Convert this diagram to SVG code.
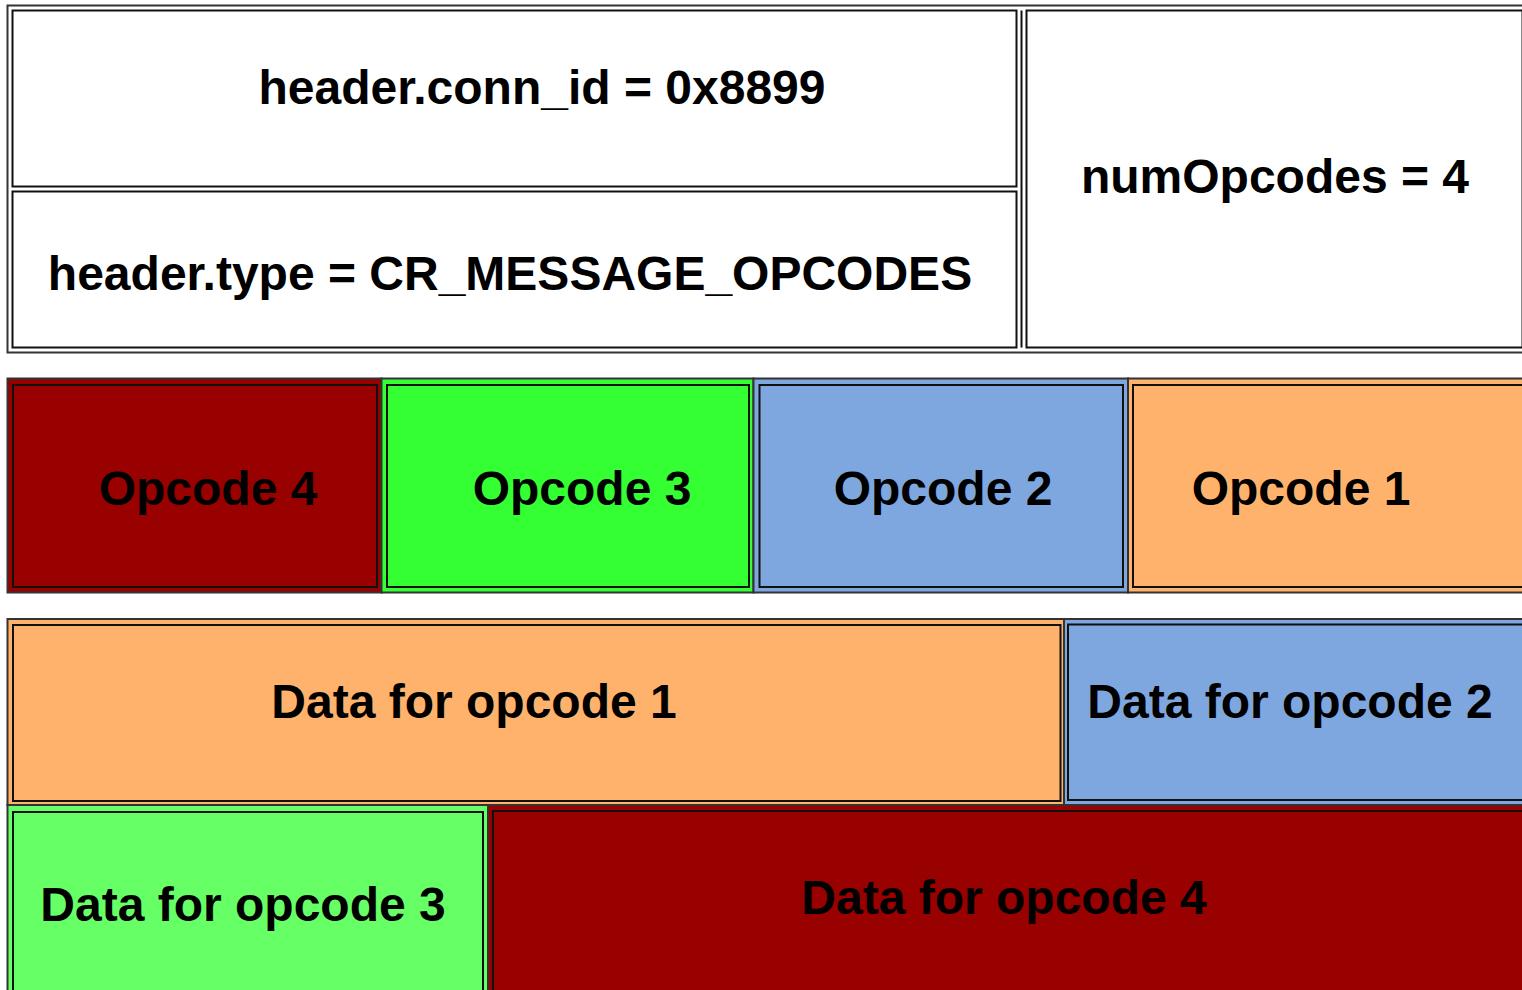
<svg xmlns="http://www.w3.org/2000/svg" width="1522" height="990" viewBox="0 0 1522 990">
  <style>
    .frame { fill: none; stroke: #333; stroke-width: 2; }
    .outer { stroke: #333; stroke-width: 2; }
    .inner { fill: none; stroke: #111; stroke-width: 2; }
    .white { fill: #fff; }
    .red { fill: #990000; }
    .green { fill: #33ff33; }
    .lgreen { fill: #66ff66; }
    .blue { fill: #7fa7df; }
    .orange { fill: #ffb26b; }
    text { font-family: "Liberation Sans", Arial, Helvetica, sans-serif; font-weight: bold; font-size: 48px; text-anchor: middle; fill: #000; }
  </style>
  <rect width="1522" height="990" fill="#fff"/>

  <!-- message header -->
  <g id="header">
    <rect class="frame white" x="7.5" y="5.5" width="1530" height="347"/>
    <g id="conn_id">
      <rect class="inner" x="12.5" y="10.5" width="1004" height="176"/>
      <text x="542" y="104">header.conn_id = 0x8899</text>
    </g>
    <g id="type">
      <rect class="inner" x="12.5" y="191.5" width="1004" height="156"/>
      <text x="510" y="290">header.type = CR_MESSAGE_OPCODES</text>
    </g>
    <line class="inner" x1="1021.5" y1="10.5" x2="1021.5" y2="347.5"/>
    <g id="numOpcodes">
      <rect class="inner" x="1026.5" y="10.5" width="496" height="337"/>
      <text x="1275" y="193">numOpcodes = 4</text>
    </g>
  </g>

  <!-- opcode bytes -->
  <g id="opcodes">
    <g id="opcode4">
      <rect class="outer red" x="7.5" y="378.5" width="374" height="214"/>
      <rect class="inner" x="13" y="385" width="364" height="202"/>
      <text x="208" y="505">Opcode 4</text>
    </g>
    <g id="opcode3">
      <rect class="outer green" x="381.5" y="378.5" width="372" height="214"/>
      <rect class="inner" x="387" y="385" width="362" height="202"/>
      <text x="582" y="505">Opcode 3</text>
    </g>
    <g id="opcode2">
      <rect class="outer blue" x="753.5" y="378.5" width="374.5" height="214"/>
      <rect class="inner" x="759.5" y="385" width="363.5" height="202"/>
      <text x="943" y="505">Opcode 2</text>
    </g>
    <g id="opcode1">
      <rect class="outer orange" x="1128" y="378.5" width="420" height="214"/>
      <rect class="inner" x="1133" y="385" width="410" height="202"/>
      <text x="1301" y="505">Opcode 1</text>
    </g>
  </g>

  <!-- opcode payloads -->
  <g id="data">
    <g id="data1">
      <rect class="outer orange" x="7.5" y="619" width="1056.5" height="186"/>
      <rect class="inner" x="13" y="625" width="1047.5" height="176"/>
      <text x="474" y="718">Data for opcode 1</text>
    </g>
    <g id="data2">
      <rect class="outer blue" x="1064" y="619" width="480" height="186"/>
      <rect class="inner" x="1068" y="624.5" width="470" height="175.5"/>
      <text x="1290" y="718">Data for opcode 2</text>
    </g>
    <g id="data3">
      <rect class="outer lgreen" x="7.5" y="805" width="480.5" height="200"/>
      <rect class="inner" x="13" y="812" width="470" height="200"/>
      <text x="243" y="921">Data for opcode 3</text>
    </g>
    <g id="data4">
      <rect class="outer red" x="488" y="805" width="1060" height="200"/>
      <rect class="inner" x="493" y="811" width="1050" height="200"/>
      <text x="1004" y="914">Data for opcode 4</text>
    </g>
  </g>
</svg>
